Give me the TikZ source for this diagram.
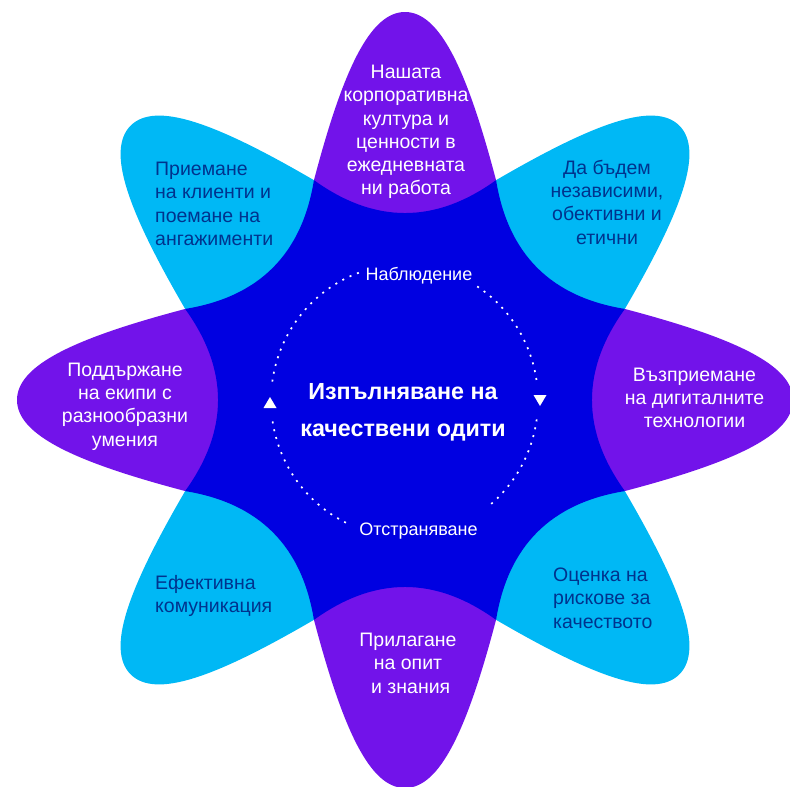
\documentclass[tikz,border=0pt]{standalone}
\usepackage{fontspec}
\setmainfont{Liberation Sans}
\definecolor{cpurple}{HTML}{7213EA}
\definecolor{ccyan}{HTML}{00B8F5}
\definecolor{cblue}{HTML}{0000E1}
\definecolor{cnavy}{HTML}{00338D}
\tikzset{
  petaltxt/.style={inner sep=0pt, font=\fontsize{19.5}{23.3}\selectfont},
  onpurple/.style={petaltxt, text=white},
  oncyan/.style={petaltxt, text=cnavy},
  dotline/.style={white, line width=1.7pt, dash pattern=on 2pt off 6pt},
  cyclabel/.style={text=white, inner sep=0pt, font=\fontsize{18}{21}\selectfont},
  centertxt/.style={text=white, inner sep=0pt, align=center, font=\bfseries\fontsize{23.3}{37}\selectfont},
}
\begin{document}
\begin{tikzpicture}[x=1pt,y=1pt]
\useasboundingbox (0,0) rectangle (790,-787);
\clip (0,0) rectangle (790,-787);
\coordinate (C) at (405,-400);
% petals
\foreach \a/\c in {90/cpurple,0/cpurple,-90/cpurple,180/cpurple,45/ccyan,-45/ccyan,-135/ccyan,135/ccyan}{
  \fill[\c, shift={(405,-400)}, rotate=\a] (220,-91) .. controls (330,-62) and (388,-35) .. (388,0)
     .. controls (388,35) and (330,62) .. (220,91) -- (0,0) -- cycle;
}
% centre star
\fill[cblue, shift={(405,-400)}] (-22.5:238)
  .. controls (-9.77:178.6) and (9.77:178.6) .. (22.5:238)
  .. controls (35.23:178.6) and (54.77:178.6) .. (67.5:238)
  .. controls (80.23:178.6) and (99.77:178.6) .. (112.5:238)
  .. controls (125.23:178.6) and (144.77:178.6) .. (157.5:238)
  .. controls (170.23:178.6) and (189.77:178.6) .. (202.5:238)
  .. controls (215.23:178.6) and (234.77:178.6) .. (247.5:238)
  .. controls (260.23:178.6) and (279.77:178.6) .. (292.5:238)
  .. controls (305.23:178.6) and (324.77:178.6) .. (337.5:238) -- cycle;
% dotted cycle
\coordinate (O) at (404.5,-400.5);
\draw[dotline] (O) ++(57:133.5 and 136) arc[start angle=57,end angle=8,x radius=133.5,y radius=136];
\draw[dotline] (O) ++(-8:133.5 and 136) arc[start angle=-8,end angle=-52,x radius=133.5,y radius=136];
\draw[dotline] (O) ++(-116:133.5 and 136) arc[start angle=-116,end angle=-172,x radius=133.5,y radius=136];
\draw[dotline] (O) ++(172:133.5 and 136) arc[start angle=172,end angle=109,x radius=133.5,y radius=136];
\fill[white] (263.5,-408) -- (276.5,-408) -- (270,-397) -- cycle;
\fill[white] (533.5,-395) -- (546.5,-395) -- (540,-406) -- cycle;
% texts
\node[onpurple, align=center] (t1) at (406,-132) {Нашата\\корпоративна\\култура и\\ценности в\\ежедневната\\ни работа};
\node[oncyan, align=center] (t2) at (607,-202) {Да бъдем\\независими,\\обективни и\\етични};
\node[onpurple, align=center] (t3) at (694.5,-398) {Възприемане\\на дигиталните\\технологии};
\node[oncyan, align=left, anchor=west] (t4) at (553,-598) {Оценка на\\рискове за\\качеството};
\node[onpurple, align=center] (t5) at (408,-663.3) {Прилагане\\на опит\\\ и знания};
\node[oncyan, align=left, anchor=west] (t6) at (155,-596) {Ефективна\\комуникация};
\node[onpurple, align=center] (t7) at (125,-406.5) {Поддържане\\на екипи с\\разнообразни\\умения};
\node[oncyan, align=left, anchor=west] (t8) at (155,-204) {Приемане\\на клиенти и\\поемане на\\ангажименти};
\node[centertxt] (ctr) at (403,-412.6) {Изпълняване на\\качествени одити};
\node[cyclabel, anchor=base] (obs) at (419,-280) {Наблюдение};
\node[cyclabel, anchor=base] (rem) at (418.5,-535) {Отстраняване};
\end{tikzpicture}
\end{document}
